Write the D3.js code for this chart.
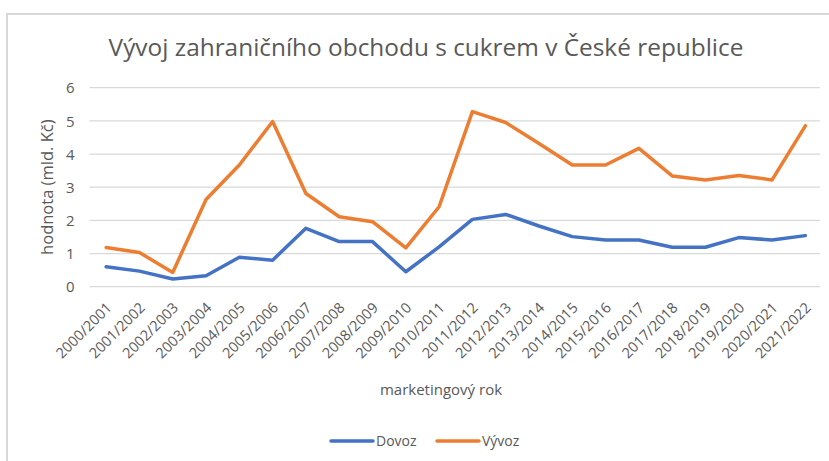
<!DOCTYPE html>
<html><head><meta charset="utf-8">
<script src="https://cdn.jsdelivr.net/npm/d3@7"></script>
<style>body{margin:0;background:#fff;}svg{display:block;}</style>
</head><body>
<script>
const categories = ["2000/2001","2001/2002","2002/2003","2003/2004","2004/2005","2005/2006","2006/2007","2007/2008","2008/2009","2009/2010","2010/2011","2011/2012","2012/2013","2013/2014","2014/2015","2015/2016","2016/2017","2017/2018","2018/2019","2019/2020","2020/2021","2021/2022"];
const dovoz = [0.60,0.47,0.23,0.33,0.89,0.80,1.76,1.36,1.36,0.45,1.20,2.03,2.18,1.83,1.51,1.41,1.41,1.19,1.19,1.48,1.41,1.54];
const vyvoz = [1.18,1.03,0.43,2.63,3.67,4.98,2.81,2.11,1.96,1.17,2.41,5.28,4.95,4.32,3.67,3.67,4.17,3.34,3.22,3.35,3.22,4.85];
const yTicks = [0,1,2,3,4,5,6];
const seriesNames = ["Dovoz","Vývoz"];
const colors = ["#4472C4","#ED7D31"];
const title = "Vývoj zahraničního obchodu s cukrem v České republice";
const yTitle = "hodnota (mld. Kč)";
const xTitle = "marketingový rok";

const W = 829, H = 461;
const font = "'Open Sans', sans-serif";
const textColor = "#595959";
const svg = d3.select("body").append("svg").attr("width", W).attr("height", H);

// chart border
svg.append("rect").attr("x", 7).attr("y", 14).attr("width", 900).attr("height", 500)
  .attr("fill", "none").attr("stroke", "#d9d9d9").attr("stroke-width", 2);

const plot = {left: 89.5, right: 822, top: 87.7, bottom: 286.7};
const x = d3.scalePoint().domain(categories).range([plot.left, plot.right]).padding(0.5);
const y = d3.scaleLinear().domain([0, 6]).range([plot.bottom, plot.top]);

// gridlines
svg.append("g").selectAll("line").data(yTicks).join("line")
  .attr("x1", plot.left).attr("x2", 820).attr("y1", d => y(d)).attr("y2", d => y(d))
  .attr("stroke", "#d9d9d9").attr("stroke-width", 1.3);

// y axis labels
const yAxis = d3.axisLeft(y).tickValues(yTicks).tickFormat(d3.format("d")).tickSize(0).tickPadding(0);
const gy = svg.append("g").attr("transform", `translate(${plot.left - 15},0)`).call(yAxis);
gy.select(".domain").remove();
gy.selectAll("text").attr("font-family", font).attr("font-size", 15).attr("fill", textColor).attr("dy", "0.35em");

// x axis labels
const xAxis = d3.axisBottom(x).tickSize(0).tickPadding(0);
const gx = svg.append("g").attr("transform", `translate(0,${plot.bottom})`).call(xAxis);
gx.select(".domain").remove();
gx.selectAll("text").attr("font-family", font).attr("font-size", 14.5).attr("fill", textColor)
  .attr("text-anchor", "end").attr("dy", null).attr("y", 0)
  .attr("transform", "translate(6,22) rotate(-45)");

// lines
const line = d3.line().x((d, i) => x(categories[i])).y(d => y(d));
[dovoz, vyvoz].forEach((s, k) => {
  svg.append("path").datum(s).attr("d", line).attr("fill", "none")
    .attr("stroke", colors[k]).attr("stroke-width", 3.5).attr("stroke-linejoin", "round").attr("stroke-linecap", "round");
});

// title
svg.append("text").attr("x", 426).attr("y", 56).attr("text-anchor", "middle")
  .attr("font-family", font).attr("font-size", 24.4).attr("fill", textColor).text(title);

// axis titles
svg.append("text").attr("transform", `translate(53,${(plot.top + plot.bottom) / 2}) rotate(-90)`)
  .attr("text-anchor", "middle").attr("font-family", font).attr("font-size", 16.5).attr("fill", textColor).text(yTitle);
svg.append("text").attr("x", 441).attr("y", 395).attr("text-anchor", "middle")
  .attr("font-family", font).attr("font-size", 15).attr("fill", textColor).text(xTitle);

// legend
const legendX = [331, 437];
seriesNames.forEach((n, k) => {
  const g = svg.append("g").attr("transform", `translate(${legendX[k]},441)`);
  g.append("line").attr("x1", 0).attr("x2", 42).attr("y1", 0).attr("y2", 0)
    .attr("stroke", colors[k]).attr("stroke-width", 3.5).attr("stroke-linecap", "round");
  g.append("text").attr("x", 45).attr("y", 0).attr("dy", "0.35em")
    .attr("font-family", font).attr("font-size", 14).attr("fill", textColor).text(n);
});
</script>
</body></html>
